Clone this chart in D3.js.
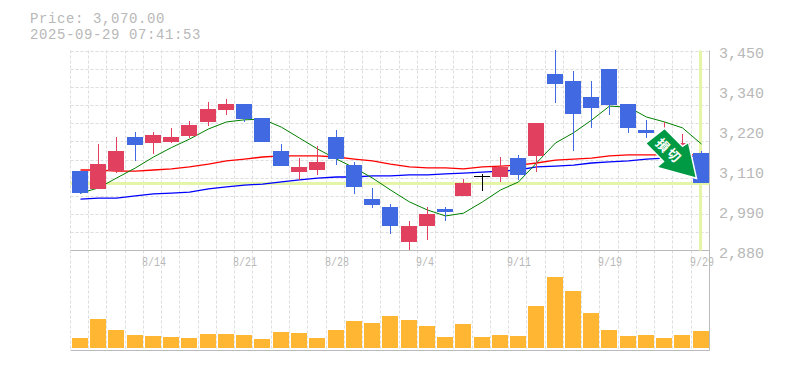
<!DOCTYPE html>
<html>
<head>
<meta charset="utf-8">
<script src="https://cdn.jsdelivr.net/npm/d3@7"></script>
<style>
html, body { margin: 0; padding: 0; background: #fff; }
svg { display: block; }
text { font-family: "Liberation Mono", monospace; fill: #b8b8b8; }
</style>
</head>
<body>
<div id="chart"></div>
<script>
// Daily candles, oldest first
const opens = [3105,3054,3105,3202,3185,3188,3205,3245,3279,3296,3256,3162,3102,3108,3202,3122,3025,3003,2903,2948,2997,3034,3091,3088,3142,3148,3382,3362,3316,3396,3296,3222,3151,3165,3156];
const closes = [3042,3125,3162,3179,3208,3202,3236,3282,3296,3253,3188,3119,3117,3131,3139,3060,3008,2948,2948,2983,2988,3071,3091,3117,3094,3242,3353,3268,3285,3293,3228,3213,3208,3185,3070];
const highs = [3105,3182,3202,3216,3216,3228,3248,3302,3310,3296,3256,3182,3142,3176,3222,3131,3057,3011,2963,3003,3003,3082,3097,3145,3151,3242,3450,3390,3362,3396,3296,3250,3245,3211,3162];
const lows = [3040,3054,3099,3134,3154,3185,3199,3233,3265,3245,3188,3119,3080,3094,3122,3040,3000,2926,2880,2908,2963,3034,3048,3074,3080,3102,3299,3162,3228,3265,3213,3199,3136,3159,3070];

// Moving averages
const maShort = [3042,3057,3085,3114,3145,3172,3196,3225,3245,3251,3253,3230,3199,3168,3139,3114,3085,3051,3017,2994,2977,2985,3017,3051,3074,3128,3185,3214,3250,3290,3287,3259,3245,3228,3182];
const maMid = [3108,3108,3105,3105,3108,3111,3117,3125,3134,3139,3145,3148,3148,3148,3145,3139,3134,3125,3117,3114,3114,3111,3117,3119,3122,3128,3136,3139,3142,3148,3151,3151,3151,3151,3151];
const maLong = [3025,3028,3028,3034,3040,3042,3045,3054,3060,3065,3068,3074,3080,3085,3088,3088,3091,3091,3094,3094,3097,3099,3102,3105,3108,3117,3119,3122,3128,3131,3134,3139,3142,3145,3148];

const volumes = [100,290,180,130,120,110,100,140,140,130,90,160,150,100,180,270,250,320,280,220,110,240,110,130,120,420,710,570,350,180,120,130,100,130,170];

const priceTicks = [3450,3340,3220,3110,2990,2880];
const dateLabels = [[4,'8/14'],[9,'8/21'],[14,'8/28'],[19,'9/4'],[24,'9/11'],[29,'9/19'],[34,'9/29']];

const lastPrice = 3070;
const priceLabel = 'Price: 3,070.00';
const timeLabel = '2025-09-29 07:41:53';

const width = 785, height = 370;
const plotLeft = 70.5, plotRight = 709.5, plotTop = 50.5, plotMid = 250.5, plotBottom = 350.5;

const svg = d3.select('#chart').append('svg')
    .attr('width', width)
    .attr('height', height);

const n = opens.length;
const x = d3.scaleLinear().domain([0, n]).range([plotLeft, plotRight]);
const y = d3.scaleLinear().domain([2880, 3450]).range([plotMid - 0.5, plotTop - 0.5]);
const yVol = d3.scaleLinear().domain([0, 1000]).range([348, 248]);
const slotX = i => Math.floor(x(i) - 0.1);
const barX = i => slotX(i) + 2;
const cx = i => barX(i) + 8.5;

// Grid
const grid = svg.append('g')
    .attr('stroke', '#ddd')
    .attr('stroke-dasharray', '3,2');
d3.range(n).forEach(i => {
    const gx = slotX(i) + 0.5;
    grid.append('line').attr('x1', gx).attr('x2', gx).attr('y1', plotTop).attr('y2', plotBottom);
});
d3.range(11).forEach(i => {
    const gy = Math.round(plotTop + (plotMid - plotTop) / 11 * i) + 0.5;
    grid.append('line').attr('x1', plotLeft).attr('x2', plotRight).attr('y1', gy).attr('y2', gy);
});

// Frame
const frame = svg.append('g').attr('stroke', '#bbb').attr('fill', 'none');
frame.append('line').attr('x1', plotLeft).attr('x2', plotRight).attr('y1', plotMid).attr('y2', plotMid);
frame.append('line').attr('x1', plotLeft).attr('x2', plotRight).attr('y1', plotBottom).attr('y2', plotBottom);
frame.append('line').attr('x1', plotRight).attr('x2', plotRight).attr('y1', plotTop).attr('y2', plotBottom);

// Current price and latest session markers
svg.append('line')
    .attr('x1', plotLeft).attr('x2', plotRight)
    .attr('y1', Math.round(y(lastPrice)) + 0.5).attr('y2', Math.round(y(lastPrice)) + 0.5)
    .attr('stroke', '#e4f5a8').attr('stroke-width', 3);
svg.append('line')
    .attr('x1', cx(n - 1) - 1).attr('x2', cx(n - 1) - 1)
    .attr('y1', plotTop).attr('y2', plotMid)
    .attr('stroke', '#e4f5a8').attr('stroke-width', 3);

// Moving averages
const maLine = d3.line().x((d, i) => cx(i)).y(d => y(d));
[[maLong, '#0000ff', 1.3], [maMid, '#ff0000', 1.3], [maShort, '#008000', 1]].forEach(([values, color, w]) => {
    svg.append('path')
        .attr('d', maLine(values))
        .attr('fill', 'none')
        .attr('stroke', color)
        .attr('stroke-width', w);
});

// Candles
const candleColor = i => closes[i] > opens[i] ? '#e2405f' : closes[i] < opens[i] ? '#4169e1' : '#000';
const candles = svg.append('g').selectAll('g')
    .data(d3.range(n))
    .enter().append('g');
candles.append('line')
    .attr('x1', cx).attr('x2', cx)
    .attr('y1', i => Math.round(y(highs[i]))).attr('y2', i => Math.round(y(lows[i])))
    .attr('stroke', candleColor);
candles.append('rect')
    .attr('x', barX)
    .attr('width', 16)
    .attr('y', i => Math.round(y(Math.max(opens[i], closes[i]))))
    .attr('height', i => Math.max(1, Math.round(Math.abs(y(opens[i]) - y(closes[i])))))
    .attr('fill', candleColor);

// Volume bars
svg.append('g').selectAll('rect')
    .data(volumes)
    .enter().append('rect')
    .attr('x', (d, i) => barX(i))
    .attr('width', 16)
    .attr('y', d => yVol(d))
    .attr('height', d => yVol(0) - yVol(d))
    .attr('fill', '#ffb733');

// Sell arrow, placed from the tip just above the latest close
const arrow = svg.append('g')
    .attr('transform', `translate(${cx(n - 1) - 5},${y(lastPrice) - 5})`);
arrow.append('path')
    .attr('d', 'M-32,-50 L-14,-32 L-8,-36 L0,0 L-40,-11 L-33,-17 L-51,-35 Z')
    .attr('fill', '#009944')
    .attr('stroke', '#fff')
    .attr('stroke-width', 1.5);
arrow.selectAll('text')
    .data([['損', -34, -33], ['切', -23, -23]])
    .enter().append('text')
    .attr('transform', d => `translate(${d[1]},${d[2]}) rotate(45)`)
    .attr('text-anchor', 'middle')
    .attr('dy', '0.35em')
    .style('font-family', '"Noto Sans CJK JP"')
    .style('font-size', '13px')
    .style('font-weight', 'bold')
    .style('fill', '#fff')
    .text(d => d[0]);

// Labels
svg.append('text').attr('x', 30).attr('y', 22.5).style('font-size', '14px').style('letter-spacing', '0.6px').text(priceLabel);
svg.append('text').attr('x', 30).attr('y', 38.5).style('font-size', '14px').style('letter-spacing', '0.6px').text(timeLabel);

svg.append('g').selectAll('text')
    .data(priceTicks)
    .enter().append('text')
    .attr('x', 719)
    .attr('y', (d, i) => 58 + i * 40)
    .style('font-size', '15px')
    .text(d => d3.format(',')(d));

svg.append('g').selectAll('text')
    .data(dateLabels)
    .enter().append('text')
    .attr('transform', d => `translate(${slotX(d[0]) - 1},266) scale(1,1.2)`)
    .style('font-size', '10px')
    .text(d => d[1]);
</script>
</body>
</html>
